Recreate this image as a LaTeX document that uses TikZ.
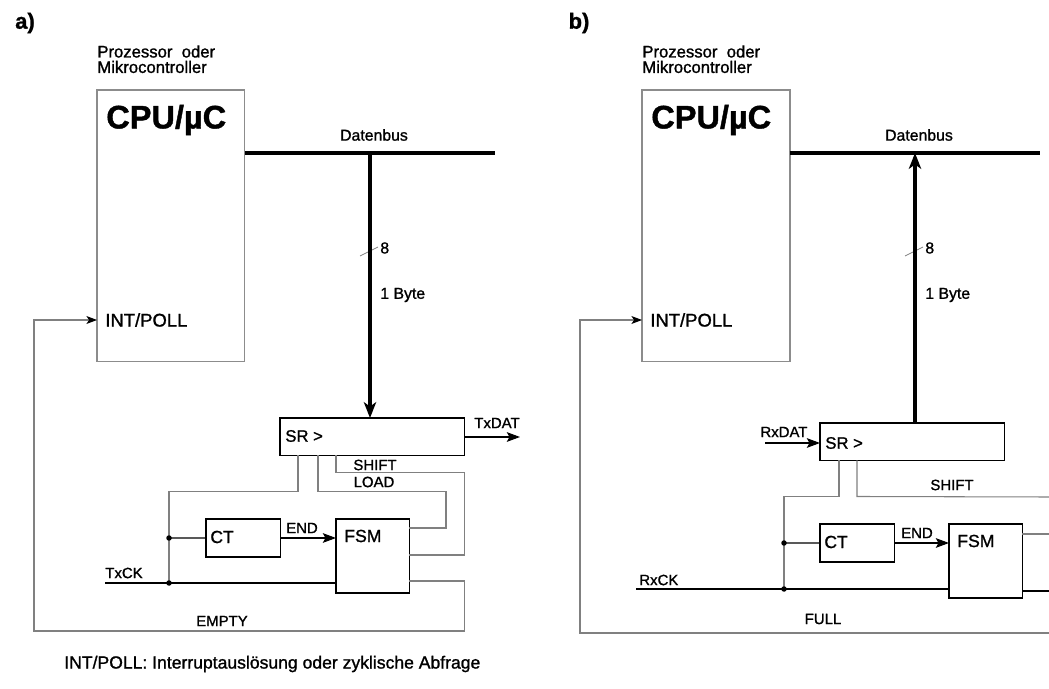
\documentclass[tikz,border=0pt]{standalone}
\usepackage{fontspec}
\setmainfont{Liberation Sans}[FakeBold=1.2]
\usetikzlibrary{positioning, arrows.meta, calc}

\begin{document}
\begin{tikzpicture}[x=0.02cm, y=-0.02cm,
  box/.style={rectangle, draw, anchor=north west, inner sep=0pt, outer sep=0pt, line width=0.6pt},
  cpubox/.style={box, draw=black!45, minimum width=2.96cm, minimum height=5.44cm},
  srbox/.style={box, minimum width=3.7cm, minimum height=0.75cm},
  ctbox/.style={box, minimum width=1.49cm, minimum height=0.76cm},
  fsmbox/.style={box, minimum width=1.47cm, minimum height=1.48cm},
  lbl/.style={inner sep=0pt, font=\fontsize{8.5}{10}\selectfont},
  bustxt/.style={inner sep=0pt, font=\fontsize{9}{11}\selectfont},
  blocktxt/.style={anchor=west, inner sep=0pt, font=\fontsize{10}{12}\selectfont},
  cputxt/.style={anchor=west, inner sep=0pt, font=\bfseries\fontsize{18.5}{21}\selectfont},
  proctxt/.style={anchor=north west, inner sep=0pt, align=left, font=\fontsize{9.5}{8.8}\selectfont},
  tag/.style={inner sep=0pt, font=\bfseries\fontsize{12.5}{14}\selectfont},
  sig/.style={line width=0.6pt},
  ctl/.style={draw=black!50, line width=0.6pt},
  bus/.style={line width=2pt},
  arr/.style={-{Stealth[length=7.5pt, width=5.5pt, inset=1.5pt]}},
  retarr/.style={-{Stealth[length=6pt, width=4.5pt, inset=1.5pt, color=black]}},
  busarr/.style={-{Stealth[length=9pt, width=7pt, inset=2.5pt]}},
  tick/.style={draw=black!50, line width=0.4pt},
  dot/.style={circle, fill, inner sep=0pt, minimum size=0.11cm}
]
  \useasboundingbox (0,0) rectangle (1049,689);

  % a) Sender
  \node[tag] (tagA) at (25,23) {a)};
  \node[proctxt] (procA) at (97,45) {Prozessor\ \ oder\\Mikrocontroller};
  \node[cpubox] (cpuA) at (97,90) {};
  \node[cputxt] (cpuAt) at (106,120) {CPU/µC};
  \node[blocktxt, font=\fontsize{10.5}{12}\selectfont] (intA) at (105,320) {INT/POLL};

  \coordinate (tapA) at (370,153);
  \coordinate (busAr) at (495,153);
  \draw[bus] (cpuA.east |- tapA) -- (busAr);
  \node[bustxt] (dbA) at (374,135) {Datenbus};
  \node[bustxt, anchor=west] (wA) at (380,248) {8};
  \draw[tick] (360,256) -- (378,247);
  \node[bustxt, anchor=west] (byteA) at (380,295) {1 Byte};

  \node[srbox] (srA) at (280,418) {};
  \node[blocktxt, font=\fontsize{9.5}{11}\selectfont] (srAt) at (285,436) {SR >};
  \draw[bus, busarr] (tapA) -- (srA.north -| tapA);
  \coordinate (txdA) at (520,437);
  \draw[sig, arr] (srA.east |- txdA) -- (txdA);
  \node[lbl] (txdAt) at (497,423) {TxDAT};

  \node[ctbox] (ctA) at (206,519) {};
  \node[blocktxt] (ctAt) at (210,537) {CT};
  \node[fsmbox] (fsmA) at (336,519) {};
  \node[blocktxt] (fsmAt) at (344,536) {FSM};

  \coordinate (jA1) at (169,538);
  \coordinate (jA2) at (169,583);
  \coordinate (txckA) at (105,583);
  \coordinate (retA) at (34,320);

  % control lines
  \draw[ctl] ($(srA.south west)+(18,0)$) -- ++(0,36) -| (jA2);
  \draw[ctl] ($(srA.south west)+(38,0)$) -- ++(0,36) -- ++(128,0) |- ($(fsmA.north east)+(0,9)$);
  \draw[ctl] ($(srA.south west)+(56,0)$) -- ++(0,17) -| ($(fsmA.north east)+(55,36)$) -- ($(fsmA.north east)+(0,36)$);
  \node[lbl] (shiftA) at (375,465) {SHIFT};
  \node[lbl] (loadA) at (374,482) {LOAD};

  \draw[sig] (jA1) -- (ctA.west);
  \draw[sig, arr] (ctA.east) -- (fsmA.west |- ctA.east);
  \node[lbl] (endA) at (302,528) {END};
  \draw[sig] (txckA) -- (fsmA.west |- txckA);
  \node[lbl, anchor=west] (txckAt) at (105,573) {TxCK};
  \node[dot] (dA1) at (jA1) {};
  \node[dot] (dA2) at (jA2) {};

  \draw[ctl, retarr] ($(fsmA.north east)+(0,62)$) -- ++(55,0) -- ++(0,50) -| (retA) -- (cpuA.west |- retA);
  \node[lbl] (emptyA) at (222,621) {EMPTY};

  % b) Empfaenger
  \node[tag] (tagB) at (579,23) {b)};
  \node[proctxt] (procB) at (642,45) {Prozessor\ \ oder\\Mikrocontroller};
  \node[cpubox] (cpuB) at (642,90) {};
  \node[cputxt] (cpuBt) at (651,120) {CPU/µC};
  \node[blocktxt, font=\fontsize{10.5}{12}\selectfont] (intB) at (650,320) {INT/POLL};

  \coordinate (tapB) at (915,153);
  \coordinate (busBr) at (1040,153);
  \draw[bus] (cpuB.east |- tapB) -- (busBr);
  \node[bustxt] (dbB) at (919,135) {Datenbus};
  \node[bustxt, anchor=west] (wB) at (925,248) {8};
  \draw[tick] (905,256) -- (923,247);
  \node[bustxt, anchor=west] (byteB) at (925,295) {1 Byte};

  \node[srbox] (srB) at (820,423) {};
  \node[blocktxt, font=\fontsize{9.5}{11}\selectfont] (srBt) at (825,443) {SR >};
  \draw[bus, busarr] (srB.north -| tapB) -- (tapB);
  \coordinate (rxdB) at (765,443);
  \draw[sig, arr] (rxdB) -- (srB.west |- rxdB);
  \node[lbl] (rxdBt) at (784,432) {RxDAT};

  \node[ctbox] (ctB) at (820,524) {};
  \node[blocktxt] (ctBt) at (824,542) {CT};
  \node[fsmbox] (fsmB) at (949,524) {};
  \node[blocktxt] (fsmBt) at (957,541) {FSM};

  \coordinate (jB1) at (784,543);
  \coordinate (jB2) at (784,589);
  \coordinate (rxckB) at (636,589);
  \coordinate (retB) at (580,320);
  \coordinate (shiftBr) at (1049,497);
  \coordinate (fsmBr1) at (1049,534);
  \coordinate (fsmBr2) at (1049,591);
  \coordinate (fullB) at (1049,633);

  % control lines
  \draw[ctl] ($(srB.south west)+(19,0)$) -- ++(0,36) -| (jB2);
  \draw[ctl] ($(srB.south west)+(37,0)$) -- ++(0,36) -- (shiftBr);
  \node[lbl] (shiftB) at (952,485) {SHIFT};
  \draw[ctl] (fsmB.east |- fsmBr1) -- (fsmBr1);
  \draw[sig] (fsmB.east |- fsmBr2) -- (fsmBr2);

  \draw[sig] (jB1) -- (ctB.west);
  \draw[sig, arr] (ctB.east) -- (fsmB.west |- ctB.east);
  \node[lbl] (endB) at (917,533) {END};
  \draw[sig] (rxckB) -- (fsmB.west |- rxckB);
  \node[lbl, anchor=west] (rxckBt) at (639,580) {RxCK};
  \node[dot] (dB1) at (jB1) {};
  \node[dot] (dB2) at (jB2) {};

  \draw[ctl, retarr] (fullB) -| (retB) -- (cpuB.west |- retB);
  \node[lbl] (fullBt) at (823,619) {FULL};

  % Legende
  \node[anchor=west, inner sep=0pt, font=\fontsize{10}{12}\selectfont] (legend) at (64,664) {INT/POLL: Interruptauslösung oder zyklische Abfrage};
\end{tikzpicture}
\end{document}
